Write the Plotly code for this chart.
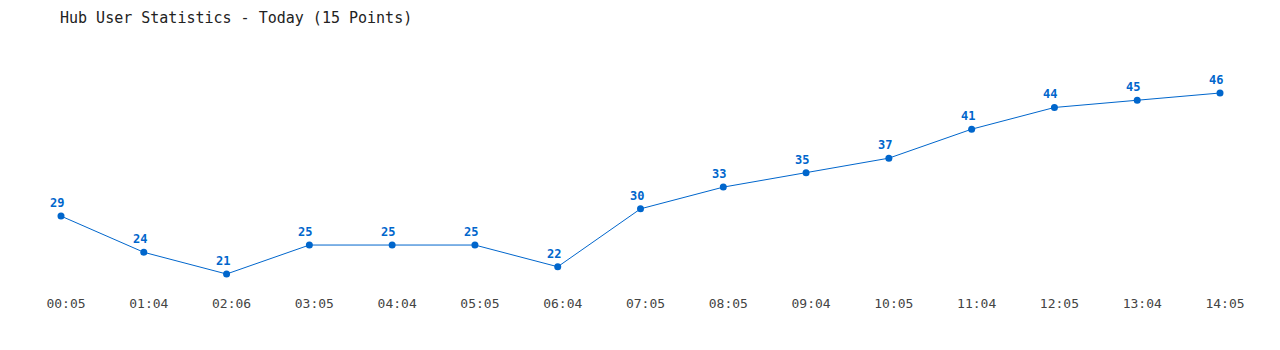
import plotly.graph_objects as go

times = ["00:05", "01:04", "02:06", "03:05", "04:04", "05:05", "06:04", "07:05",
         "08:05", "09:04", "10:05", "11:04", "12:05", "13:04", "14:05"]
users = [29, 24, 21, 25, 25, 25, 22, 30, 33, 35, 37, 41, 44, 45, 46]

idx = list(range(len(times)))
color = "#0066cc"
font_family = "DejaVu Sans Mono, Liberation Mono, monospace"

fig = go.Figure()
fig.add_trace(go.Scatter(
    x=idx, y=users, mode="lines+markers",
    line=dict(color=color, width=1),
    marker=dict(color=color, size=7),
    hoverinfo="skip",
))

for i, v in zip(idx, users):
    fig.add_annotation(x=i, y=v, text=str(v), showarrow=False,
                       xshift=-4, yshift=13, yanchor="middle",
                       font=dict(family=font_family, size=12, color=color, weight="bold"))

fig.update_layout(
    width=1280, height=350,
    margin=dict(l=40, r=40, t=50, b=60),
    paper_bgcolor="white", plot_bgcolor="white",
    showlegend=False,
    title=dict(text="Hub User Statistics - Today (15 Points)", x=0, xref="paper",
               xanchor="left", yref="container", y=1 - 18/350, yanchor="middle",
               pad=dict(l=20),
               font=dict(family=font_family, size=15, color="#222222")),
    xaxis=dict(range=[-0.2537, 14.2416], tickmode="array", tickvals=idx, ticktext=times,
               showgrid=False, zeroline=False, showline=False, ticks="",
               ticklabelshift=5, ticklabelstandoff=4,
               tickfont=dict(family=font_family, size=13, color="#444444")),
    yaxis=dict(range=[18.79, 51.94], visible=False, showgrid=False, zeroline=False),
)

fig.write_html("out.html")
